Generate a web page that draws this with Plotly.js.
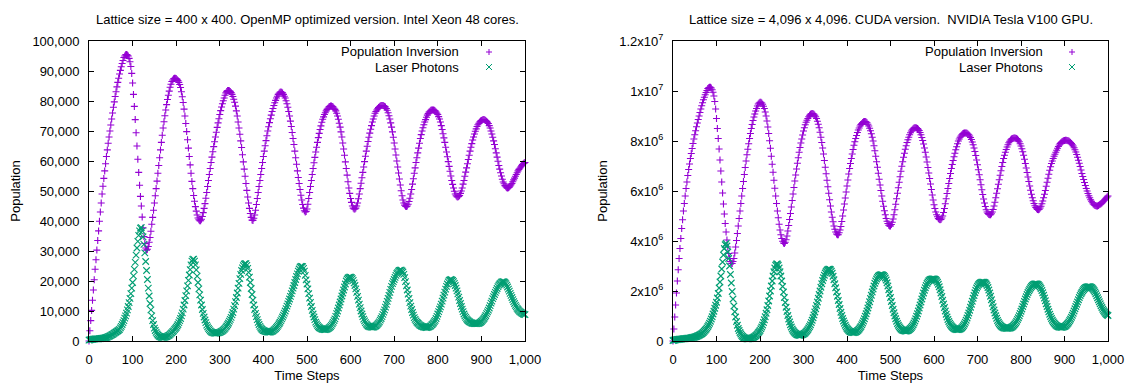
<!DOCTYPE html>
<html><head><meta charset="utf-8">
<script src="https://cdn.plot.ly/plotly-3.0.1.min.js"></script>
<style>html,body{margin:0;padding:0;background:#fff;} #chart{width:1127px;height:383px;}</style>
</head><body><div id="chart"></div>
<script>
const timeSteps = [
0,2,4,6,8,10,12,14,16,18,20,22,24,26,28,30,32,34,36,38,40,42,44,46,48,
50,52,54,56,58,60,62,64,66,68,70,72,74,76,78,80,82,84,86,88,90,92,94,96,98,
100,102,104,106,108,110,112,114,116,118,120,122,124,126,128,130,132,134,136,138,140,142,144,146,148,
150,152,154,156,158,160,162,164,166,168,170,172,174,176,178,180,182,184,186,188,190,192,194,196,198,
200,202,204,206,208,210,212,214,216,218,220,222,224,226,228,230,232,234,236,238,240,242,244,246,248,
250,252,254,256,258,260,262,264,266,268,270,272,274,276,278,280,282,284,286,288,290,292,294,296,298,
300,302,304,306,308,310,312,314,316,318,320,322,324,326,328,330,332,334,336,338,340,342,344,346,348,
350,352,354,356,358,360,362,364,366,368,370,372,374,376,378,380,382,384,386,388,390,392,394,396,398,
400,402,404,406,408,410,412,414,416,418,420,422,424,426,428,430,432,434,436,438,440,442,444,446,448,
450,452,454,456,458,460,462,464,466,468,470,472,474,476,478,480,482,484,486,488,490,492,494,496,498,
500,502,504,506,508,510,512,514,516,518,520,522,524,526,528,530,532,534,536,538,540,542,544,546,548,
550,552,554,556,558,560,562,564,566,568,570,572,574,576,578,580,582,584,586,588,590,592,594,596,598,
600,602,604,606,608,610,612,614,616,618,620,622,624,626,628,630,632,634,636,638,640,642,644,646,648,
650,652,654,656,658,660,662,664,666,668,670,672,674,676,678,680,682,684,686,688,690,692,694,696,698,
700,702,704,706,708,710,712,714,716,718,720,722,724,726,728,730,732,734,736,738,740,742,744,746,748,
750,752,754,756,758,760,762,764,766,768,770,772,774,776,778,780,782,784,786,788,790,792,794,796,798,
800,802,804,806,808,810,812,814,816,818,820,822,824,826,828,830,832,834,836,838,840,842,844,846,848,
850,852,854,856,858,860,862,864,866,868,870,872,874,876,878,880,882,884,886,888,890,892,894,896,898,
900,902,904,906,908,910,912,914,916,918,920,922,924,926,928,930,932,934,936,938,940,942,944,946,948,
950,952,954,956,958,960,962,964,966,968,970,972,974,976,978,980,982,984,986,988,990,992,994,996,998,
1000];

// Left panel: 400 x 400 lattice, OpenMP
const leftInversion = [
0,3400,6800,10200,13600,17000,20400,23900,27100,30300,33500,36700,39900,43000,46000,49000,51600,54200,56700,59100,61500,63700,65900,68000,70000,
72000,74000,76000,77900,79700,81500,83100,84700,86200,87600,89000,90200,91400,92500,93500,94500,95000,95400,95500,95300,95000,94200,93100,91500,89200,
86000,82200,78200,73800,69400,65000,60600,56200,51900,48200,45000,41300,37700,34800,32500,31000,30300,30600,31500,32900,34500,36600,38900,41200,43600,
46000,48400,50800,53300,55900,58500,61100,63700,66200,68600,71000,73100,75100,77000,78800,80500,81900,83300,84600,85600,86500,87000,87400,87600,87600,
87500,87200,86800,86200,85500,84500,83100,81400,79500,77300,75000,72500,69800,67100,64300,61500,58700,55900,53200,50800,48500,46600,44800,43300,42000,
41000,40400,40100,40100,40600,41500,42800,44200,45800,47600,49500,51500,53500,55500,57500,59500,61300,63100,64800,66400,68000,69600,71200,72700,74100,
75500,76800,78000,79100,80100,81000,81900,82700,83200,83500,83500,83400,83200,82800,82200,81500,80600,79600,78300,76700,75000,73000,71000,68900,66700,
64500,62100,59700,57300,54900,52500,50200,48000,46000,44200,42500,41200,40300,40200,40900,42000,43600,45500,47500,49500,51500,53500,55500,57500,59500,
61500,63300,65100,66800,68400,70000,71400,72800,74100,75300,76500,77500,78500,79400,80200,81000,81600,82200,82600,82900,83000,82900,82700,82200,81600,
81000,80100,79100,77900,76500,75000,73300,71500,69500,67500,65500,63300,61100,58900,56700,54500,52500,50500,48600,47000,45500,44300,43400,43000,43200,
44000,45600,47500,49500,51500,53500,55500,57500,59400,61200,63000,64600,66200,67800,69200,70500,71700,72900,73900,74700,75500,76100,76700,77200,77600,
78000,78200,78300,78300,78200,78000,77600,77200,76700,75900,75000,73900,72600,71300,69700,68000,66000,64000,61900,59700,57500,55300,53100,51000,49200,
47500,46200,45000,44300,44000,44000,44300,45000,46000,47400,49000,50800,52600,54400,56200,58000,59800,61600,63300,64900,66500,67900,69300,70600,71800,
73000,74000,75000,75900,76500,77000,77400,77800,78100,78300,78500,78500,78500,78400,78200,78000,77500,76900,76100,75100,74000,72700,71300,69700,67900,
66000,64000,62000,60000,58000,56000,54000,52000,50100,48400,47000,46000,45300,44900,44800,45000,45600,46500,47600,49000,50500,52300,54100,55900,57700,
59500,61100,62700,64300,65900,67500,68800,70000,71100,72100,73000,73800,74600,75300,75800,76300,76600,76900,77000,77000,77000,76900,76700,76300,75900,
75500,74800,74000,73000,71800,70500,69100,67700,66200,64600,63000,61400,59800,58200,56600,55000,53500,52200,51000,49900,49000,48400,48100,48000,48200,
48500,49200,50000,51000,52300,53500,54900,56300,57700,59100,60500,61900,63300,64600,65800,67000,68000,69000,69900,70700,71500,72100,72600,73000,73300,
73500,73700,73800,73800,73700,73500,73200,72900,72500,71800,71000,70000,69000,67900,66700,65500,64100,62700,61300,59900,58500,57300,56100,55000,53900,
53000,52400,51800,51400,51100,51000,51100,51300,51700,52100,52500,53100,53700,54300,54900,55500,56100,56700,57200,57600,58000,58400,58800,59100,59300,
59500];
const leftPhotons = [
300,380,460,520,570,600,640,680,700,700,700,740,780,820,860,900,940,980,1040,1120,1200,1320,1440,1560,1740,
1900,2060,2220,2400,2600,2800,3000,3200,3420,3660,3900,4400,4900,5500,6100,6800,7600,8400,9300,10400,11500,12800,14200,15800,17600,
19500,21700,23900,26200,28600,31000,33200,35200,36700,37600,37800,36700,34700,32200,29400,26500,23500,20500,17600,15000,12500,10400,8400,6800,5500,
4300,3500,2900,2400,2000,1700,1500,1350,1250,1200,1200,1220,1260,1340,1460,1600,1780,1980,2240,2520,2800,3100,3400,3780,4140,
4500,5000,5500,6100,6800,7500,8400,9400,10600,12000,13500,15100,16700,18400,20200,22000,23800,25400,26600,27200,27300,26600,25400,23700,21600,
19500,17400,15400,13600,12000,10500,9200,8000,7000,6100,5300,4700,4200,3800,3400,3100,2900,2800,2700,2650,2600,2620,2680,2740,2820,
2900,3050,3200,3400,3650,3900,4200,4600,5000,5500,6000,6600,7200,7900,8700,9500,10600,11800,13100,14500,16000,17600,19200,20800,22200,
23500,24400,25100,25600,25800,25800,25200,24200,22900,21300,19500,17500,15500,13600,12000,10500,9200,8100,7100,6200,5500,4900,4400,4000,3700,
3500,3350,3250,3150,3050,3000,3000,3000,3000,3100,3200,3400,3600,3850,4150,4500,4900,5300,5750,6250,6800,7400,8000,8600,9300,
10000,10800,11600,12400,13200,14000,14900,15800,16700,17600,18500,19500,20500,21500,22400,23300,24000,24600,24900,24900,24800,24200,23300,21900,20400,
19000,17400,15800,14300,12900,11500,10200,9000,8000,7100,6300,5700,5200,4800,4500,4300,4100,4000,3900,3850,3800,3820,3860,3950,4100,
4300,4550,4800,5200,5700,6200,6800,7400,8200,9100,10000,11000,12000,13000,14000,15000,16000,17000,18000,19000,20000,20600,21000,21200,21300,
21300,21100,20800,20200,19400,18500,17400,16200,14900,13600,12300,11100,10000,9000,8100,7300,6700,6100,5600,5300,5000,4850,4750,4680,4630,
4600,4650,4730,4880,5080,5300,5600,5950,6400,6950,7500,8150,8850,9600,10400,11300,12200,13200,14200,15200,16200,17200,18200,19100,19800,
20500,21200,21900,22500,22900,23300,23500,23600,23600,23400,23000,22200,21100,19800,18400,17000,15600,14200,12800,11600,10500,9500,8600,7800,7200,
6700,6300,6000,5700,5400,5200,5000,4850,4750,4650,4600,4550,4500,4520,4600,4700,4850,5050,5350,5650,6000,6450,6900,7500,8200,
9000,9800,10600,11400,12300,13300,14300,15300,16300,17300,18200,19000,19700,20200,20400,20500,20400,20200,19800,19200,18500,17600,16700,15700,14600,
13500,12500,11500,10600,9800,9000,8400,7900,7400,7000,6700,6500,6300,6100,6000,5900,5850,5800,5800,5800,5800,5850,5920,6050,6250,
6500,6800,7100,7500,8000,8500,9100,9700,10300,11000,11800,12600,13300,14100,14800,15500,16200,16900,17500,18100,18600,19000,19300,19600,19700,
19800,19700,19500,19100,18600,18000,17300,16600,15900,15200,14500,13800,13100,12500,11900,11400,10900,10500,10100,9800,9600,9400,9200,9000,8900,
8800];

// Right panel: 4,096 x 4,096 lattice, CUDA
const rightInversion = [
0,0.48e6,0.96e6,1.44e6,1.92e6,2.4e6,2.85e6,3.3e6,3.7e6,4.1e6,4.5e6,4.85e6,5.2e6,5.5e6,5.8e6,6.1e6,6.36e6,6.62e6,6.86e6,7.08e6,7.3e6,7.5e6,7.7e6,7.9e6,8.08e6,
8.25e6,8.41e6,8.57e6,8.72e6,8.86e6,9.0e6,9.14e6,9.28e6,9.41e6,9.53e6,9.65e6,9.75e6,9.85e6,9.94e6,10.02e6,10.1e6,10.13e6,10.15e6,10.15e6,10.12e6,10.05e6,9.95e6,9.8e6,9.58e6,9.28e6,
8.9e6,8.5e6,8.1e6,7.68e6,7.24e6,6.8e6,6.36e6,5.92e6,5.48e6,5.08e6,4.7e6,4.36e6,4.04e6,3.76e6,3.5e6,3.3e6,3.18e6,3.11e6,3.1e6,3.18e6,3.3e6,3.52e6,3.76e6,4.02e6,4.3e6,
4.6e6,4.9e6,5.2e6,5.5e6,5.8e6,6.1e6,6.38e6,6.66e6,6.94e6,7.2e6,7.45e6,7.67e6,7.89e6,8.1e6,8.3e6,8.5e6,8.66e6,8.82e6,8.96e6,9.08e6,9.2e6,9.3e6,9.4e6,9.48e6,9.52e6,
9.55e6,9.55e6,9.52e6,9.47e6,9.39e6,9.3e6,9.16e6,9.0e6,8.8e6,8.56e6,8.3e6,8.01e6,7.71e6,7.39e6,7.07e6,6.75e6,6.43e6,6.11e6,5.8e6,5.5e6,5.2e6,4.93e6,4.67e6,4.44e6,4.25e6,
4.1e6,3.99e6,3.92e6,3.9e6,3.95e6,4.05e6,4.2e6,4.4e6,4.62e6,4.86e6,5.1e6,5.36e6,5.62e6,5.88e6,6.14e6,6.4e6,6.64e6,6.88e6,7.11e6,7.33e6,7.55e6,7.74e6,7.92e6,8.08e6,8.24e6,
8.4e6,8.53e6,8.65e6,8.75e6,8.83e6,8.9e6,8.97e6,9.03e6,9.07e6,9.09e6,9.1e6,9.09e6,9.07e6,9.03e6,8.97e6,8.9e6,8.79e6,8.67e6,8.53e6,8.35e6,8.15e6,7.94e6,7.72e6,7.48e6,7.22e6,
6.95e6,6.69e6,6.43e6,6.17e6,5.91e6,5.65e6,5.4e6,5.16e6,4.95e6,4.77e6,4.6e6,4.47e6,4.36e6,4.28e6,4.25e6,4.25e6,4.33e6,4.44e6,4.58e6,4.78e6,5.0e6,5.24e6,5.48e6,5.72e6,5.96e6,
6.2e6,6.44e6,6.68e6,6.9e6,7.1e6,7.3e6,7.48e6,7.66e6,7.83e6,7.97e6,8.1e6,8.22e6,8.34e6,8.44e6,8.52e6,8.6e6,8.66e6,8.7e6,8.74e6,8.77e6,8.78e6,8.78e6,8.76e6,8.73e6,8.67e6,
8.6e6,8.51e6,8.41e6,8.29e6,8.15e6,8.0e6,7.81e6,7.61e6,7.39e6,7.17e6,6.95e6,6.71e6,6.47e6,6.24e6,6.02e6,5.8e6,5.59e6,5.39e6,5.21e6,5.05e6,4.9e6,4.79e6,4.7e6,4.63e6,4.6e6,
4.6e6,4.66e6,4.75e6,4.88e6,5.05e6,5.25e6,5.47e6,5.69e6,5.91e6,6.13e6,6.35e6,6.57e6,6.79e6,6.99e6,7.17e6,7.35e6,7.51e6,7.67e6,7.81e6,7.94e6,8.05e6,8.15e6,8.25e6,8.33e6,8.4e6,
8.45e6,8.49e6,8.52e6,8.53e6,8.53e6,8.52e6,8.5e6,8.47e6,8.42e6,8.34e6,8.25e6,8.14e6,8.02e6,7.88e6,7.72e6,7.55e6,7.36e6,7.16e6,6.94e6,6.72e6,6.5e6,6.28e6,6.06e6,5.84e6,5.64e6,
5.45e6,5.3e6,5.16e6,5.05e6,4.97e6,4.9e6,4.86e6,4.85e6,4.86e6,4.92e6,5.0e6,5.14e6,5.3e6,5.49e6,5.69e6,5.9e6,6.1e6,6.3e6,6.5e6,6.7e6,6.9e6,7.06e6,7.22e6,7.37e6,7.51e6,
7.65e6,7.77e6,7.89e6,8.0e6,8.08e6,8.15e6,8.2e6,8.25e6,8.29e6,8.31e6,8.32e6,8.32e6,8.32e6,8.31e6,8.28e6,8.25e6,8.2e6,8.14e6,8.06e6,7.96e6,7.85e6,7.72e6,7.58e6,7.42e6,7.24e6,
7.05e6,6.85e6,6.65e6,6.45e6,6.25e6,6.05e6,5.86e6,5.68e6,5.52e6,5.38e6,5.25e6,5.16e6,5.1e6,5.06e6,5.05e6,5.05e6,5.09e6,5.16e6,5.26e6,5.4e6,5.55e6,5.73e6,5.91e6,6.09e6,6.27e6,
6.45e6,6.63e6,6.81e6,6.98e6,7.14e6,7.3e6,7.43e6,7.55e6,7.66e6,7.76e6,7.85e6,7.93e6,7.99e6,8.04e6,8.08e6,8.1e6,8.11e6,8.12e6,8.12e6,8.11e6,8.1e6,8.07e6,8.03e6,7.97e6,7.89e6,
7.8e6,7.69e6,7.57e6,7.43e6,7.27e6,7.1e6,6.92e6,6.74e6,6.56e6,6.38e6,6.2e6,6.03e6,5.87e6,5.73e6,5.61e6,5.5e6,5.41e6,5.34e6,5.29e6,5.26e6,5.25e6,5.27e6,5.32e6,5.39e6,5.49e6,
5.6e6,5.73e6,5.87e6,6.02e6,6.19e6,6.35e6,6.51e6,6.67e6,6.83e6,6.97e6,7.1e6,7.2e6,7.3e6,7.39e6,7.47e6,7.55e6,7.63e6,7.71e6,7.78e6,7.84e6,7.9e6,7.94e6,7.97e6,7.99e6,8.01e6,
8.02e6,8.03e6,8.03e6,8.02e6,8.01e6,8.0e6,7.97e6,7.94e6,7.9e6,7.85e6,7.8e6,7.73e6,7.65e6,7.56e6,7.46e6,7.35e6,7.23e6,7.11e6,6.98e6,6.84e6,6.7e6,6.58e6,6.46e6,6.34e6,6.22e6,
6.1e6,6.0e6,5.9e6,5.81e6,5.73e6,5.65e6,5.59e6,5.53e6,5.48e6,5.45e6,5.42e6,5.41e6,5.4e6,5.4e6,5.42e6,5.45e6,5.47e6,5.49e6,5.52e6,5.56e6,5.6e6,5.64e6,5.68e6,5.72e6,5.76e6,
5.8e6];
const rightPhotons = [
0.02e6,0.03e6,0.04e6,0.045e6,0.055e6,0.06e6,0.065e6,0.07e6,0.07e6,0.075e6,0.08e6,0.085e6,0.09e6,0.09e6,0.095e6,0.1e6,0.105e6,0.11e6,0.11e6,0.115e6,0.12e6,0.13e6,0.14e6,0.145e6,0.15e6,
0.16e6,0.17e6,0.18e6,0.2e6,0.21e6,0.23e6,0.25e6,0.27e6,0.29e6,0.32e6,0.35e6,0.39e6,0.43e6,0.47e6,0.52e6,0.58e6,0.64e6,0.71e6,0.79e6,0.88e6,0.97e6,1.08e6,1.19e6,1.31e6,1.43e6,
1.55e6,1.72e6,1.9e6,2.12e6,2.36e6,2.6e6,2.88e6,3.16e6,3.44e6,3.7e6,3.85e6,3.9e6,3.8e6,3.56e6,3.3e6,3.0e6,2.66e6,2.32e6,1.98e6,1.68e6,1.4e6,1.17e6,0.96e6,0.78e6,0.63e6,
0.5e6,0.42e6,0.34e6,0.28e6,0.22e6,0.18e6,0.15e6,0.13e6,0.11e6,0.1e6,0.09e6,0.09e6,0.09e6,0.095e6,0.1e6,0.11e6,0.125e6,0.14e6,0.16e6,0.18e6,0.21e6,0.24e6,0.28e6,0.33e6,0.37e6,
0.42e6,0.49e6,0.56e6,0.64e6,0.74e6,0.85e6,0.97e6,1.11e6,1.25e6,1.42e6,1.6e6,1.8e6,2.0e6,2.2e6,2.4e6,2.6e6,2.77e6,2.92e6,3.03e6,3.08e6,3.08e6,3.03e6,2.92e6,2.77e6,2.6e6,
2.4e6,2.18e6,1.96e6,1.74e6,1.54e6,1.35e6,1.18e6,1.02e6,0.88e6,0.76e6,0.65e6,0.56e6,0.48e6,0.42e6,0.37e6,0.33e6,0.3e6,0.27e6,0.25e6,0.24e6,0.23e6,0.23e6,0.235e6,0.245e6,0.26e6,
0.28e6,0.3e6,0.33e6,0.37e6,0.41e6,0.46e6,0.52e6,0.58e6,0.65e6,0.74e6,0.83e6,0.93e6,1.04e6,1.16e6,1.29e6,1.42e6,1.56e6,1.71e6,1.86e6,2.0e6,2.15e6,2.29e6,2.42e6,2.53e6,2.63e6,
2.72e6,2.78e6,2.83e6,2.86e6,2.87e6,2.87e6,2.85e6,2.79e6,2.71e6,2.59e6,2.45e6,2.29e6,2.13e6,1.96e6,1.79e6,1.62e6,1.46e6,1.3e6,1.15e6,1.02e6,0.9e6,0.8e6,0.71e6,0.63e6,0.56e6,
0.5e6,0.46e6,0.42e6,0.39e6,0.37e6,0.35e6,0.345e6,0.34e6,0.34e6,0.345e6,0.36e6,0.38e6,0.41e6,0.44e6,0.48e6,0.53e6,0.58e6,0.65e6,0.72e6,0.8e6,0.89e6,0.99e6,1.09e6,1.2e6,1.32e6,
1.44e6,1.57e6,1.7e6,1.83e6,1.96e6,2.08e6,2.2e6,2.31e6,2.4e6,2.48e6,2.54e6,2.59e6,2.62e6,2.64e6,2.65e6,2.65e6,2.64e6,2.62e6,2.58e6,2.52e6,2.44e6,2.33e6,2.2e6,2.05e6,1.9e6,
1.74e6,1.58e6,1.42e6,1.27e6,1.13e6,1.0e6,0.89e6,0.79e6,0.7e6,0.63e6,0.57e6,0.52e6,0.48e6,0.45e6,0.43e6,0.42e6,0.41e6,0.4e6,0.4e6,0.41e6,0.42e6,0.44e6,0.47e6,0.5e6,0.54e6,
0.59e6,0.65e6,0.72e6,0.8e6,0.89e6,0.99e6,1.09e6,1.2e6,1.32e6,1.44e6,1.56e6,1.68e6,1.8e6,1.92e6,2.03e6,2.13e6,2.22e6,2.3e6,2.36e6,2.41e6,2.44e6,2.46e6,2.47e6,2.48e6,2.48e6,
2.48e6,2.47e6,2.45e6,2.41e6,2.35e6,2.27e6,2.17e6,2.05e6,1.92e6,1.78e6,1.63e6,1.48e6,1.34e6,1.2e6,1.07e6,0.96e6,0.86e6,0.78e6,0.71e6,0.65e6,0.6e6,0.56e6,0.53e6,0.5e6,0.48e6,
0.47e6,0.46e6,0.46e6,0.46e6,0.47e6,0.48e6,0.5e6,0.53e6,0.57e6,0.62e6,0.68e6,0.75e6,0.83e6,0.92e6,1.02e6,1.12e6,1.23e6,1.35e6,1.47e6,1.59e6,1.71e6,1.82e6,1.93e6,2.03e6,2.12e6,
2.19e6,2.25e6,2.29e6,2.32e6,2.34e6,2.35e6,2.35e6,2.35e6,2.34e6,2.32e6,2.28e6,2.22e6,2.14e6,2.04e6,1.92e6,1.79e6,1.65e6,1.51e6,1.37e6,1.24e6,1.12e6,1.01e6,0.91e6,0.82e6,0.75e6,
0.69e6,0.64e6,0.6e6,0.57e6,0.55e6,0.53e6,0.52e6,0.515e6,0.51e6,0.51e6,0.51e6,0.515e6,0.52e6,0.53e6,0.55e6,0.57e6,0.6e6,0.64e6,0.68e6,0.73e6,0.79e6,0.86e6,0.93e6,1.01e6,1.1e6,
1.19e6,1.28e6,1.38e6,1.48e6,1.58e6,1.68e6,1.77e6,1.86e6,1.94e6,2.01e6,2.07e6,2.13e6,2.18e6,2.22e6,2.25e6,2.27e6,2.28e6,2.28e6,2.28e6,2.27e6,2.25e6,2.21e6,2.16e6,2.1e6,2.02e6,
1.93e6,1.83e6,1.72e6,1.61e6,1.49e6,1.38e6,1.27e6,1.17e6,1.07e6,0.98e6,0.9e6,0.83e6,0.77e6,0.72e6,0.68e6,0.64e6,0.61e6,0.59e6,0.57e6,0.56e6,0.555e6,0.55e6,0.55e6,0.555e6,0.565e6,
0.58e6,0.6e6,0.63e6,0.67e6,0.71e6,0.76e6,0.82e6,0.88e6,0.95e6,1.03e6,1.11e6,1.2e6,1.29e6,1.38e6,1.47e6,1.56e6,1.65e6,1.74e6,1.82e6,1.89e6,1.95e6,2.01e6,2.06e6,2.1e6,2.13e6,
2.15e6,2.16e6,2.17e6,2.17e6,2.17e6,2.16e6,2.14e6,2.11e6,2.07e6,2.02e6,1.96e6,1.89e6,1.81e6,1.73e6,1.65e6,1.57e6,1.49e6,1.41e6,1.34e6,1.27e6,1.21e6,1.16e6,1.11e6,1.07e6,1.04e6,
1.02e6];

const seriesNames = ["Population Inversion", "Laser Photons"];
const seriesColors = ["#9400d3", "#009e73"];
const leftTitle = "Lattice size = 400 x 400. OpenMP optimized version. Intel Xeon 48 cores.";
const rightTitle = "Lattice size = 4,096 x 4,096. CUDA version.  NVIDIA Tesla V100 GPU.";
const xTitle = "Time Steps";
const yTitle = "Population";
const xTickVals = [0,100,200,300,400,500,600,700,800,900,1000];
const leftYTickVals = [0,10000,20000,30000,40000,50000,60000,70000,80000,90000,100000];
const rightYTickVals = [0,2e6,4e6,6e6,8e6,1e7,1.2e7];
const rightYTickText = ["0","2x10<sup>6</sup>","4x10<sup>6</sup>","6x10<sup>6</sup>","8x10<sup>6</sup>","1x10<sup>7</sup>","1.2x10<sup>7</sup>"];

const W = 1127, H = 383, ML = 89, MR = 19, MT = 41, MB = 42;
const PW = W - ML - MR, PH = H - MT - MB;
function px(x) { return (x - ML) / PW; }
function py(y) { return (H - MB - y) / PH; }

const FONT = "Liberation Sans, Arial, Helvetica, sans-serif";
const symbols = ["cross-thin-open", "x-thin-open"];
const symbolSizes = [5, 6.5];

function mk(x, y, i, xa, ya) {
  return {
    type: "scatter", mode: "markers", x: x, y: y, xaxis: xa, yaxis: ya,
    name: seriesNames[i], showlegend: false, cliponaxis: false,
    marker: { symbol: symbols[i], size: symbolSizes[i], color: seriesColors[i], line: { width: 1.1, color: seriesColors[i] } },
    hoverinfo: "x+y+name"
  };
}

const traces = [
  mk(timeSteps, leftInversion, 0, "x", "y"),
  mk(timeSteps, leftPhotons, 1, "x", "y"),
  mk(timeSteps, rightInversion, 0, "x2", "y2"),
  mk(timeSteps, rightPhotons, 1, "x2", "y2")
];

function xAxis(domain, anchor) {
  return {
    domain: domain, anchor: anchor, range: [0, 1000], tickvals: xTickVals, tickformat: ",d",
    ticks: "inside", ticklen: 5, tickwidth: 1, tickcolor: "#000", mirror: "ticks",
    showline: true, linecolor: "#000", linewidth: 1, showgrid: false, zeroline: false,
    tickfont: { family: FONT, size: 13, color: "#000" }, ticklabelstandoff: 6,
    title: { text: xTitle, font: { family: FONT, size: 13, color: "#000" }, standoff: 5 }
  };
}
function yAxis(anchor, range, extra) {
  return Object.assign({
    domain: [0, 1], anchor: anchor, range: range,
    ticks: "inside", ticklen: 5, tickwidth: 1, tickcolor: "#000", mirror: "ticks",
    showline: true, linecolor: "#000", linewidth: 1, showgrid: false, zeroline: false,
    tickfont: { family: FONT, size: 13, color: "#000" }, ticklabelstandoff: 6,
    title: { text: yTitle, font: { family: FONT, size: 13, color: "#000" }, standoff: 8 }
  }, extra);
}

const annotations = [];
const shapes = [];
function addLegend(textRightPx, markerPx) {
  const rows = [52, 67];
  rows.forEach((ry, i) => {
    annotations.push({ xref: "paper", yref: "paper", x: px(textRightPx), y: py(ry), xanchor: "right", yanchor: "middle",
      text: seriesNames[i], showarrow: false, font: { family: FONT, size: 13, color: "#000" } });
    const base = { type: "line", xref: "paper", yref: "paper", xsizemode: "pixel", ysizemode: "pixel",
      xanchor: px(markerPx), yanchor: py(ry), line: { color: seriesColors[i], width: 1 } };
    const r = 3;
    if (i === 0) {
      shapes.push(Object.assign({}, base, { x0: -r, x1: r, y0: 0, y1: 0 }));
      shapes.push(Object.assign({}, base, { x0: 0, x1: 0, y0: -r, y1: r }));
    } else {
      shapes.push(Object.assign({}, base, { x0: -r, x1: r, y0: -r, y1: r }));
      shapes.push(Object.assign({}, base, { x0: -r, x1: r, y0: r, y1: -r }));
    }
  });
}
addLegend(461, 489);
addLegend(1045, 1072);

annotations.push({ xref: "paper", yref: "paper", x: px(307), y: py(20), xanchor: "center", yanchor: "middle",
  text: leftTitle, showarrow: false, font: { family: FONT, size: 13, color: "#000" } });
annotations.push({ xref: "paper", yref: "paper", x: px(890.5), y: py(20), xanchor: "center", yanchor: "middle",
  text: rightTitle, showarrow: false, font: { family: FONT, size: 13, color: "#000" } });

const layout = {
  width: W, height: H, margin: { l: ML, r: MR, t: MT, b: MB, pad: 0 },
  paper_bgcolor: "#fff", plot_bgcolor: "#fff", showlegend: false,
  font: { family: FONT, size: 13, color: "#000" },
  xaxis: xAxis([0, px(525)], "y"),
  yaxis: yAxis("x", [0, 100000], { tickvals: leftYTickVals, tickformat: ",d" }),
  xaxis2: xAxis([px(673), 1], "y2"),
  yaxis2: yAxis("x2", [0, 1.2e7], { tickvals: rightYTickVals, ticktext: rightYTickText }),
  annotations: annotations, shapes: shapes
};

Plotly.newPlot("chart", traces, layout, { displayModeBar: false, staticPlot: true });
</script>
</body></html>
